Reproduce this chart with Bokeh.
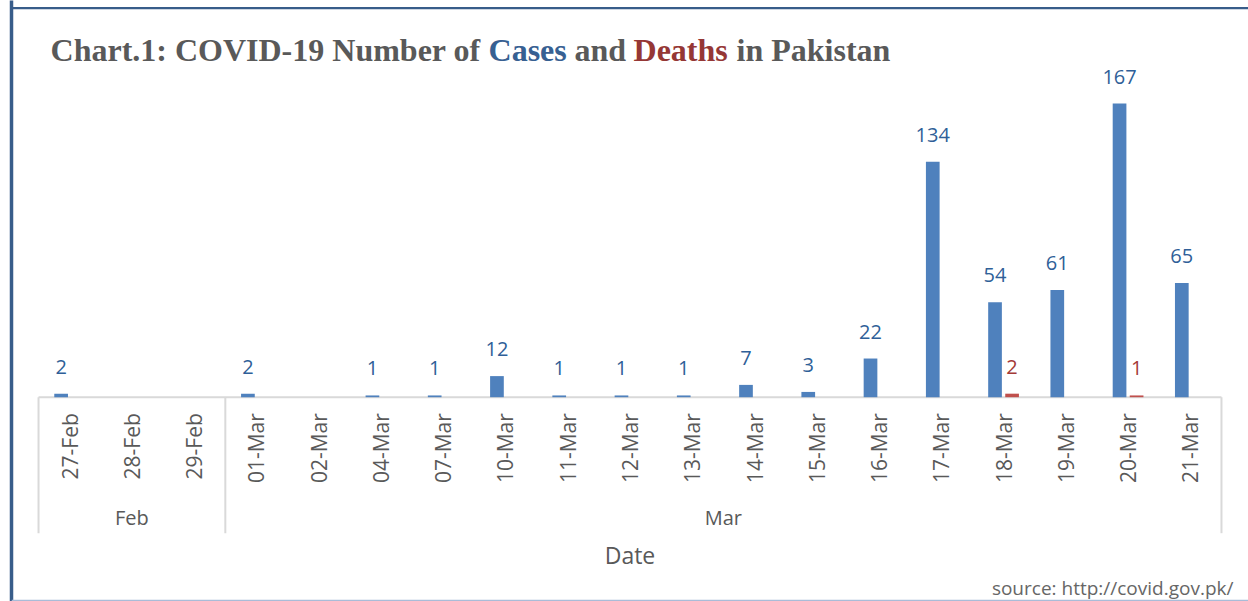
import math
from bokeh.plotting import figure
from bokeh.models import ColumnDataSource, FactorRange, Range1d, Span, FixedTicker
from bokeh.transform import dodge
from bokeh.core.properties import value
from bokeh.embed import file_html
from bokeh.resources import INLINE

# ---------------- data ----------------
days = ["27-Feb", "28-Feb", "29-Feb", "01-Mar", "02-Mar", "04-Mar", "07-Mar", "10-Mar",
        "11-Mar", "12-Mar", "13-Mar", "14-Mar", "15-Mar", "16-Mar", "17-Mar", "18-Mar",
        "19-Mar", "20-Mar", "21-Mar"]
months = ["Feb", "Feb", "Feb", "Mar", "Mar", "Mar", "Mar", "Mar", "Mar", "Mar", "Mar",
          "Mar", "Mar", "Mar", "Mar", "Mar", "Mar", "Mar", "Mar"]
cases = [2, None, None, 2, None, 1, 1, 12, 1, 1, 1, 7, 3, 22, 134, 54, 61, 167, 65]
deaths = [None, None, None, None, None, None, None, None, None, None, None, None, None,
          None, None, 2, None, 1, None]

title_parts = ["Chart.1: COVID-19 Number of", "Cases", "and", "Deaths", "in Pakistan"]
x_title = "Date"
source_note = "source: http://covid.gov.pk/"

# ---------------- style / geometry ----------------
W, H = 1248, 601
PX_PER_UNIT = 1.758          # vertical pixels per case
BASE_Y = 396.7               # canvas y of the zero line
Y_END = BASE_Y / PX_PER_UNIT
Y_START = -(H - BASE_Y) / PX_PER_UNIT

BLUE = "#4F81BD"
RED = "#C0504D"
BLUE_TXT = "#2F5F98"
RED_TXT = "#A33A37"
GREY = "#595959"
LINE = "#D9D9D9"
BORDER = "#385D8A"
FONT = "Open Sans"

p = figure(x_range=FactorRange(*days, range_padding=0.0457, range_padding_units="percent",
                               factor_padding=0),
           y_range=Range1d(Y_START, Y_END),
           width=W, height=H, output_backend="svg", toolbar_location=None, title=None,
           min_border_left=11, min_border_right=0, min_border_top=0, min_border_bottom=0)
p.grid.visible = False
p.outline_line_color = None
p.background_fill_color = "white"
p.border_fill_color = "white"

# left axis used only as the blue chart border
ya = p.yaxis[0]
ya.ticker = FixedTicker(ticks=[])
ya.major_tick_out = 0
ya.major_tick_in = 0
ya.minor_tick_out = 0
ya.minor_tick_in = 0
ya.major_label_standoff = 0
ya.major_label_text_font_size = "0px"
ya.axis_line_color = BORDER
ya.axis_line_width = 3.5

# category axis placed at zero
xa = p.xaxis[0]
xa.fixed_location = 0
xa.axis_line_color = None
xa.major_tick_line_color = None
xa.minor_tick_line_color = None
xa.major_tick_out = 0
xa.major_label_orientation = math.pi / 2
xa.major_label_standoff = 16
xa.major_label_text_font = FONT
xa.major_label_text_font_size = "21px"
xa.major_label_text_color = GREY
xa.axis_label = x_title
xa.axis_label_text_font = FONT
xa.axis_label_text_font_size = "23px"
xa.axis_label_text_font_style = "normal"
xa.axis_label_text_color = GREY
xa.axis_label_standoff = 53

# borders top / bottom
p.add_layout(Span(location=(BASE_Y - 7.7) / PX_PER_UNIT, dimension="width",
                  line_color=BORDER, line_width=2.2))
p.add_layout(Span(location=-(600 - BASE_Y) / PX_PER_UNIT, dimension="width",
                  line_color="#A9BCD8", line_width=1.5))

# month group boundaries computed from the month list
bounds = [0]
for i in range(1, len(months)):
    if months[i] != months[i - 1]:
        bounds.append(i)
bounds.append(len(months))
group_names = [months[b] for b in bounds[:-1]]
group_centers = [(bounds[i] + bounds[i + 1]) / 2 for i in range(len(bounds) - 1)]

sep_depth = -(532.7 - BASE_Y) / PX_PER_UNIT
p.segment(x0=[0], y0=[0], x1=[len(days)], y1=[0], line_color=LINE, line_width=2)
p.segment(x0=bounds, y0=[0] * len(bounds), x1=bounds, y1=[sep_depth] * len(bounds),
          line_color=LINE, line_width=2)
p.text(x=group_centers, y=[0] * len(group_centers), text=group_names,
       y_offset=120, text_align="center", text_baseline="middle",
       text_font=value(FONT), text_font_size="20px", text_color=GREY)

# bars
c_src = ColumnDataSource(dict(day=[d for d, v in zip(days, cases) if v is not None],
                              v=[v for v in cases if v is not None],
                              t=[str(v) for v in cases if v is not None]))
d_src = ColumnDataSource(dict(day=[d for d, v in zip(days, deaths) if v is not None],
                              v=[v for v in deaths if v is not None],
                              t=[str(v) for v in deaths if v is not None]))
OFF = 0.137
BW = 0.22
p.vbar(x=dodge("day", -OFF, range=p.x_range), top="v", bottom=0, width=BW, source=c_src,
       fill_color=BLUE, line_color=None)
p.vbar(x=dodge("day", OFF, range=p.x_range), top="v", bottom=0, width=BW, source=d_src,
       fill_color=RED, line_color=None)
p.text(x=dodge("day", -OFF, range=p.x_range), y="v", text="t", source=c_src,
       y_offset=-27, text_align="center", text_baseline="alphabetic",
       text_font=value(FONT), text_font_size="20px", text_color=BLUE_TXT)
p.text(x=dodge("day", OFF, range=p.x_range), y="v", text="t", source=d_src,
       y_offset=-27, text_align="center", text_baseline="alphabetic",
       text_font=value(FONT), text_font_size="20px", text_color=RED_TXT)

# title (multi-coloured)
title_offsets = [12, 450, 536, 595, 698]
title_colors = [GREY, "#376092", GREY, "#953735", GREY]
p.text(x=[0] * len(title_parts), y=[Y_END] * len(title_parts), text=title_parts,
       x_offset=title_offsets, y_offset=49, text_align="left", text_baseline="alphabetic",
       text_font=value("Liberation Serif"), text_font_style="bold", text_font_size="32px",
       text_color=title_colors)

# source note
p.text(x=[len(days)], y=[Y_START], text=[source_note], x_offset=12, y_offset=-14,
       text_align="right", text_baseline="alphabetic",
       text_font=value(FONT), text_font_size="19px", text_color="#666666")

open("out.html", "w").write(file_html(p, INLINE))
